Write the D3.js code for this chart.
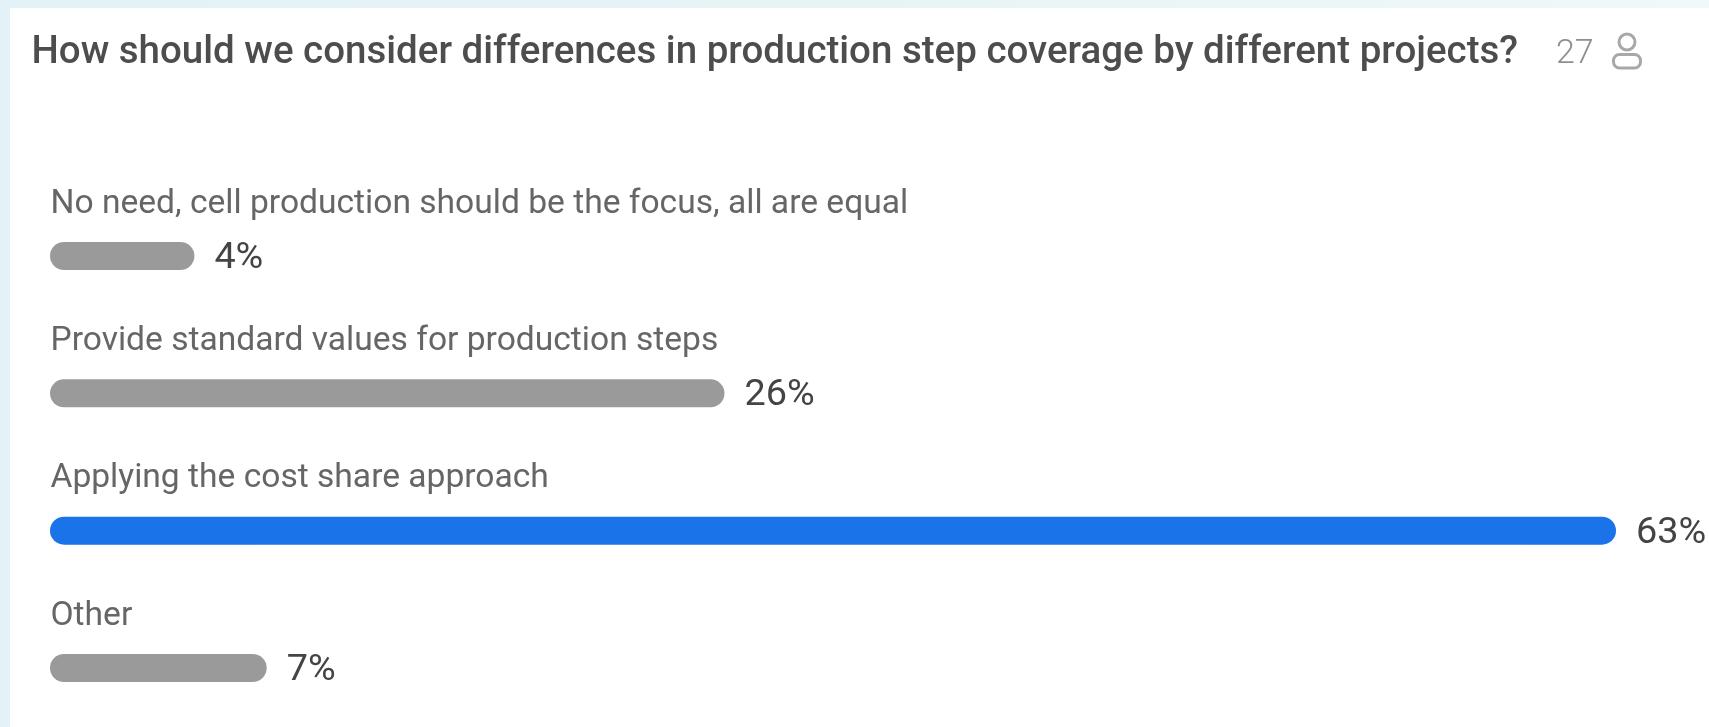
<!DOCTYPE html>
<html><head><meta charset="utf-8">
<script src="https://cdnjs.cloudflare.com/ajax/libs/d3/7.8.5/d3.min.js"></script>
<style>html,body{margin:0;padding:0;background:#fff;overflow:hidden}svg{display:block;filter:blur(0.45px)}text{font-family:Roboto,sans-serif}</style>
</head><body><svg id="c" width="1709" height="727"></svg>
<script>
const title = "How should we consider differences in production step coverage by different projects?";
const respondents = "27";
const categories = ["No need, cell production should be the focus, all are equal","Provide standard values for production steps","Applying the cost share approach","Other"];
const values = [4, 26, 63, 7];
const highlighted = ["Applying the cost share approach"];

const W = 1709, H = 727, left = 50;
const svg = d3.select("#c");
const defs = svg.append("defs");
const grad = defs.append("linearGradient").attr("id","bg");
grad.append("stop").attr("offset","0").attr("stop-color","#e2f2f7");
grad.append("stop").attr("offset","0.5").attr("stop-color","#e7f4f6");
grad.append("stop").attr("offset","1").attr("stop-color","#eff8fa");
svg.append("rect").attr("width",W).attr("height",H).attr("fill","url(#bg)");
svg.append("rect").attr("x",10).attr("y",8).attr("width",W-10).attr("height",H-8).attr("fill","#fff");

svg.append("text").attr("x",31.5).attr("y",63).attr("font-size",38.5).attr("font-weight",500).attr("fill","#4d4d4d").text(title);
svg.append("text").attr("x",1556).attr("y",63).attr("font-size",34).attr("font-weight",300).attr("fill","#8f8f8f").text(respondents);
const icon = svg.append("g").attr("fill","none").attr("stroke","#a8a8a8").attr("stroke-width",3);
icon.append("circle").attr("cx",1627).attr("cy",42).attr("r",8);
icon.append("rect").attr("x",1613.5).attr("y",54.5).attr("width",27).attr("height",13.5).attr("rx",6);

const x = d3.scaleLinear().domain([0,63]).range([98,1616]);
const y = d3.scalePoint().domain(categories).range([242,654]);
const rows = svg.selectAll("g.row").data(categories.map((c,i)=>({c,v:values[i]}))).join("g").attr("class","row")
  .attr("transform",d=>`translate(0,${y(d.c)})`);
rows.append("text").attr("x",left+0.5).attr("y",-29.2).attr("font-size",33.6).attr("font-weight",400).attr("fill","#666").text(d=>d.c);
rows.append("rect").attr("x",left).attr("y",0).attr("height",28).attr("rx",14).attr("width",d=>x(d.v)-left)
  .attr("fill",d=>highlighted.includes(d.c)?"#1a73e8":"#9a9a9a");
rows.append("text").attr("x",d=>x(d.v)+20).attr("y",26).attr("font-size",37.8).attr("fill","#444").text(d=>d.v+"%");
</script></body></html>
